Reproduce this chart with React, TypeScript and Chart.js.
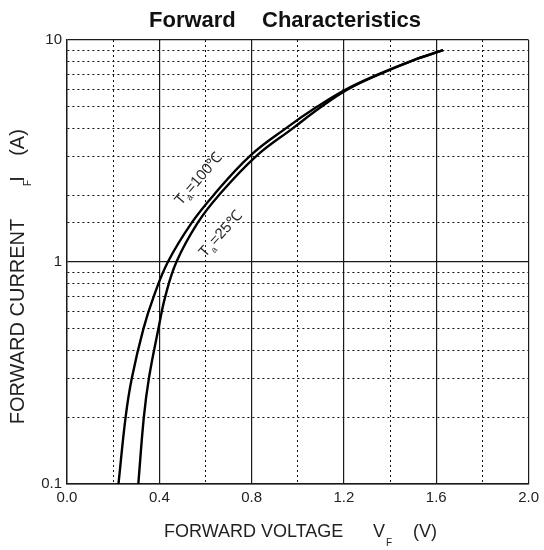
import React, { useEffect, useRef } from 'react';
import { Chart, registerables } from 'chart.js';

Chart.register(...registerables);

// Forward current (A) sampled along the curves
const currentA = [0.1, 0.2, 0.3, 0.5, 0.7, 1, 1.5, 2, 3, 4, 5, 6, 7, 8, 9];
// Forward voltage (V) at Ta = 100 °C
const voltage100 = [0.223, 0.254, 0.281, 0.331, 0.376, 0.437, 0.54, 0.635, 0.792, 0.948, 1.083, 1.21, 1.348, 1.485, 1.63];
// Forward voltage (V) at Ta = 25 °C
const voltage25 = [0.309, 0.333, 0.355, 0.396, 0.426, 0.474, 0.566, 0.658, 0.82, 0.978, 1.102, 1.218, 1.353, 1.487, 1.63];

const xTickLabels = ['0.0', '0.4', '0.8', '1.2', '1.6', '2.0'];
const yTickLabels = ['0.1', '1', '10'];

const titleLeft = 'Forward';
const titleRight = 'Characteristics';
const xTitleMain = 'FORWARD VOLTAGE';
const yTitleMain = 'FORWARD CURRENT';

const FONT = '"Liberation Sans", Arial, sans-serif';

function isDecade(v: number) {
  const l = Math.log10(v);
  return Math.abs(l - Math.round(l)) < 1e-6;
}
function isMajorX(v: number) {
  const r = v / 0.4;
  return Math.abs(r - Math.round(r)) < 1e-6;
}

const textPlugin = {
  id: 'textPlugin',
  afterDraw(chart: any) {
    const ctx = chart.ctx as CanvasRenderingContext2D;
    ctx.save();
    ctx.fillStyle = '#111';
    ctx.textBaseline = 'alphabetic';
    ctx.textAlign = 'left';
    // Title
    ctx.font = `bold 22px ${FONT}`;
    ctx.fillText(titleLeft, 149, 27);
    ctx.fillText(titleRight, 262, 27);

    // X axis title
    ctx.fillStyle = '#222';
    ctx.font = `18px ${FONT}`;
    ctx.fillText(xTitleMain, 164, 537);
    ctx.fillText('V', 373, 537);
    ctx.fillText('(V)', 413, 537);
    ctx.font = `10px ${FONT}`;
    ctx.fillText('F', 386, 546);

    // Y axis title (rotated)
    const rot = (txt: string, bx: number, cy: number, size: number) => {
      ctx.save();
      ctx.translate(bx, cy);
      ctx.rotate(-Math.PI / 2);
      ctx.font = `${size}px ${FONT}`;
      ctx.textAlign = 'center';
      ctx.fillText(txt, 0, 0);
      ctx.restore();
    };
    rot(yTitleMain, 24, 321.5, 20);
    rot('I', 24, 179, 20);
    rot('F', 31, 183, 10);
    rot('(A)', 24, 142.5, 20);

    // Curve labels
    const curveLabel = (x: number, y: number, angleDeg: number, rest: string) => {
      ctx.save();
      ctx.translate(x, y);
      ctx.rotate((angleDeg * Math.PI) / 180);
      ctx.textAlign = 'left';
      ctx.fillStyle = '#2a2a2a';
      ctx.font = `15px ${FONT}`;
      ctx.fillText('T', 0, 0);
      let off = ctx.measureText('T').width;
      ctx.font = `9px ${FONT}`;
      ctx.fillText('a', off + 0.5, 4);
      off += ctx.measureText('a').width + 1.5;
      ctx.font = `15px ${FONT}`;
      ctx.fillText(rest, off, 0);
      ctx.restore();
    };
    curveLabel(181, 206, -49, '=100\u2103');
    curveLabel(205, 258, -48, '=25\u2103');
    ctx.restore();
  },
};

export default function App() {
  const ref = useRef<HTMLCanvasElement>(null);
  useEffect(() => {
    document.body.style.margin = '0';
    const canvas = ref.current;
    if (!canvas) return;
    const chart = new Chart(canvas, {
      type: 'scatter',
      data: {
        datasets: [
          {
            label: 'Ta=100°C',
            data: currentA.map((c, i) => ({ x: voltage100[i], y: c })),
            showLine: true,
            borderColor: '#000',
            borderWidth: 2.4,
            pointRadius: 0,
            tension: 0.4,
          },
          {
            label: 'Ta=25°C',
            data: currentA.map((c, i) => ({ x: voltage25[i], y: c })),
            showLine: true,
            borderColor: '#000',
            borderWidth: 2.4,
            pointRadius: 0,
            tension: 0.4,
          },
        ],
      },
      options: {
        responsive: false,
        animation: false,
        devicePixelRatio: 1,
        layout: { padding: { top: 40, right: 11, left: 0, bottom: 0 } },
        plugins: { legend: { display: false }, tooltip: { enabled: false }, title: { display: false } },
        scales: {
          x: {
            type: 'linear',
            min: 0,
            max: 2,
            afterFit: (s: any) => { s.height = 66; },
            ticks: {
              stepSize: 0.2,
              autoSkip: false,
              maxRotation: 0,
              padding: 5,
              color: '#222',
              font: { family: FONT, size: 15 },
              callback: (v: any) => {
                const s = Number(v).toFixed(1);
                return xTickLabels.includes(s) ? s : '';
              },
            },
            grid: {
              drawTicks: false,
              lineWidth: (c: any) => (c.tick && isMajorX(c.tick.value) ? 1.2 : 1),
              color: (c: any) => (c.tick && isMajorX(c.tick.value) ? '#1a1a1a' : '#111'),
            },
            border: {
              display: true,
              color: '#1a1a1a',
              width: 1.4,
              dash: (c: any) => (c.tick && !isMajorX(c.tick.value) ? [2, 3] : []),
            },
          },
          y: {
            type: 'logarithmic',
            min: 0.1,
            max: 10,
            afterFit: (s: any) => { s.width = 67; },
            ticks: {
              autoSkip: false,
              padding: 5,
              color: '#222',
              font: { family: FONT, size: 15 },
              callback: (v: any) => {
                const s = String(Number(Number(v).toPrecision(3)));
                return yTickLabels.includes(s) ? s : '';
              },
            },
            grid: {
              drawTicks: false,
              lineWidth: (c: any) => (c.tick && isDecade(c.tick.value) ? 1.2 : 1),
              color: (c: any) => (c.tick && isDecade(c.tick.value) ? '#1a1a1a' : '#111'),
            },
            border: {
              display: true,
              color: '#1a1a1a',
              width: 1.4,
              dash: (c: any) => (c.tick && !isDecade(c.tick.value) ? [2, 3] : []),
            },
          },
        },
      } as any,
      plugins: [textPlugin],
    });
    return () => chart.destroy();
  }, []);
  return (
    <div style={{ width: 544, height: 550 }}>
      <canvas ref={ref} width={544} height={550} style={{ width: 544, height: 550, display: 'block' }} />
    </div>
  );
}
